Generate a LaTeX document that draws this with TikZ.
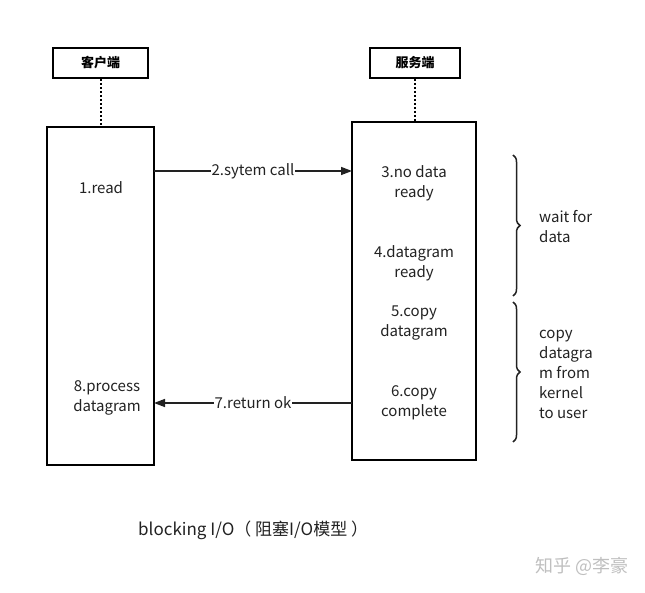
\documentclass[tikz,border=0pt]{standalone}
\usepackage{fontspec}
\setmainfont{Noto Sans CJK SC}
\usetikzlibrary{decorations.pathreplacing,arrows.meta}
\definecolor{ink}{HTML}{222222}
\begin{document}
\begin{tikzpicture}[x=1pt,y=-1pt,
  lbl/.style={font=\fontsize{15}{20}\selectfont, text=ink, align=center, inner sep=1pt},
  hdr/.style={draw=black, line width=2pt, minimum width=95pt, minimum height=30pt, font=\fontsize{13}{15}\selectfont\bfseries, inner sep=0pt},
  lifebox/.style={draw=black, line width=1.6pt, fill=white},
  msg/.style={draw=ink, line width=1.5pt, -{Triangle[length=11pt,width=8pt]}},
  brc/.style={draw=ink, line width=1.5pt, decorate, decoration={brace, amplitude=7pt}},
  dotline/.style={line width=2.5pt, dash pattern=on 2pt off 2pt}
]
\useasboundingbox (0,0) rectangle (645,593);
% headers
\node[hdr] (ch) at (100.5,63) {客户端};
\node[hdr, minimum width=90pt] (sh) at (415,63) {服务端};
% life boxes
\draw[lifebox] (47,127) rectangle (154,465);
\coordinate (ctop) at (101,127);
\draw[lifebox] (352,122) rectangle (476,460);
\coordinate (stop) at (415,122);
\draw[dotline] (ch.south -| ctop) -- (ctop);
\draw[dotline] (sh.south -| stop) -- (stop);
% arrows
\coordinate (a2s) at (154,171);
\coordinate (a2e) at (352,171);
\coordinate (a7s) at (352,403);
\coordinate (a7e) at (154,403);
\draw[msg] (a2s) -- node[lbl, fill=white] (l2) {2.sytem call} (a2e);
\draw[msg] (a7s) -- node[lbl, fill=white] (l7) {7.return ok} (a7e);
% client texts
\node[lbl] (t1) at (101,188) {1.read};
\node[lbl] (t8) at (107,398) {8.process\\datagram};
% server texts
\node[lbl] (t3) at (414,183) {3.no data\\ready};
\node[lbl] (t4) at (414,263) {4.datagram\\ready};
\node[lbl] (t5) at (414,323) {5.copy\\datagram};
\node[lbl] (t6) at (414,403) {6.copy\\complete};
% braces
\coordinate (b1t) at (513,155);
\coordinate (b1b) at (513,296);
\coordinate (b2t) at (513,302);
\coordinate (b2b) at (513,442);
\draw[brc] (b1t) -- (b1b);
\draw[brc] (b2t) -- (b2b);
\node[lbl, align=left, anchor=west] (w1) at (538,227) {wait for\\data};
\node[lbl, align=left, anchor=west] (w2) at (538,374) {copy\\datagra\\m from\\kernel\\to user};
% caption
\node[lbl, anchor=west, font=\fontsize{17}{20}\selectfont] (cap) at (137,530) {blocking I/O（ 阻塞I/O模型 ）};
\node[lbl, anchor=east, text=black!25, font=\fontsize{18}{20}\selectfont] (wm) at (630,566) {知乎 @李豪};
\end{tikzpicture}
\end{document}
